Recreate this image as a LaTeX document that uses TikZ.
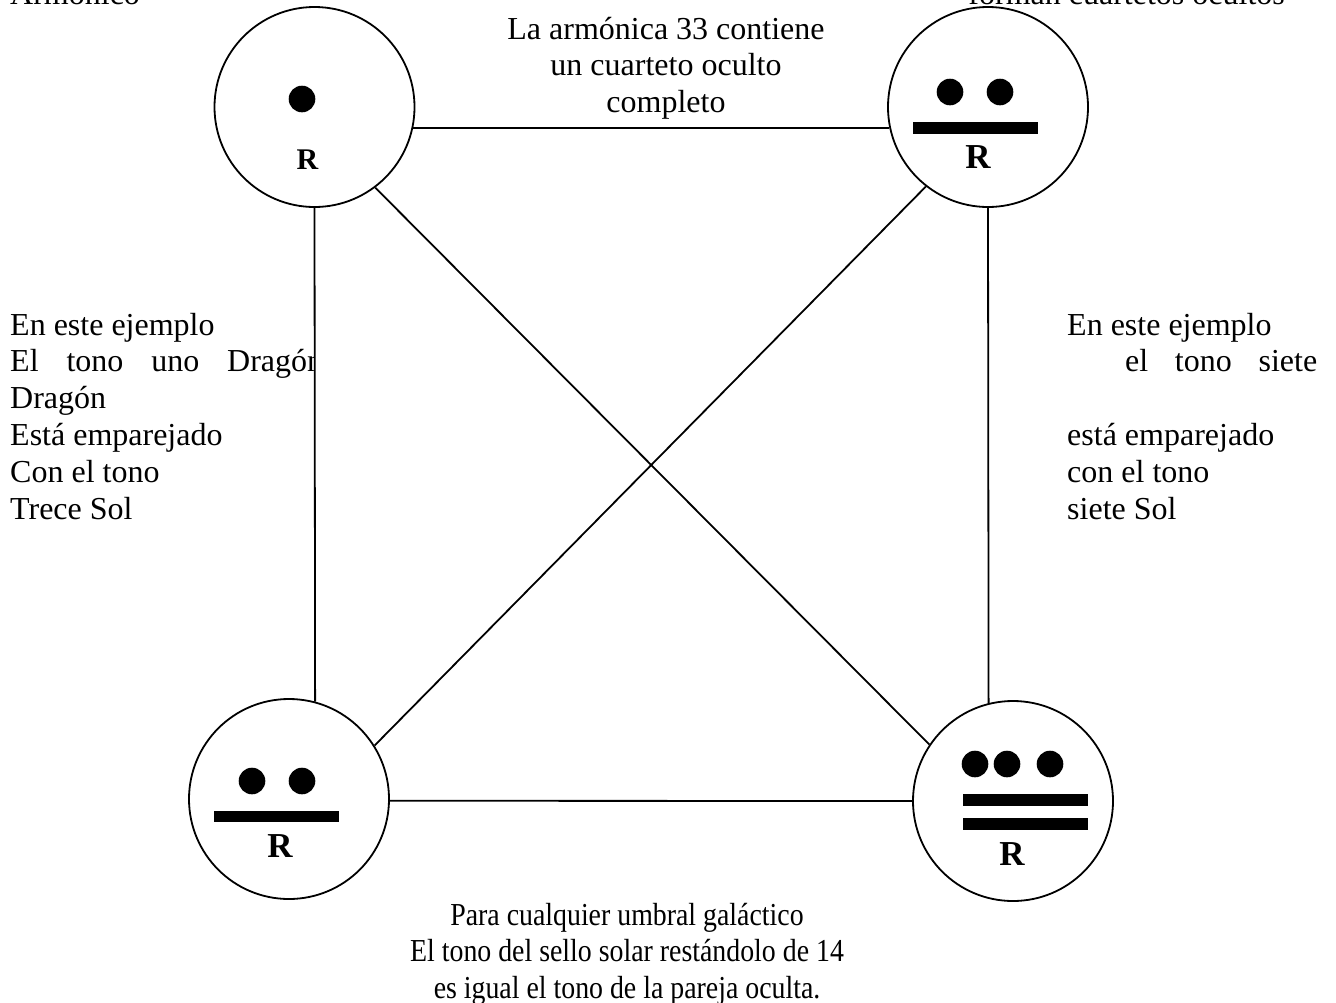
\documentclass[tikz,border=0pt]{standalone}
\usepackage{fontspec}
\setmainfont{Liberation Serif}
\usepackage{graphicx}
\newcommand\blockC[2]{\vtop{\baselineskip=#1\lineskiplimit=-100pt\halign{\hfil##\hfil\cr#2\crcr}}}
\newcommand\blockL[2]{\vtop{\baselineskip=#1\lineskiplimit=-100pt\halign{##\hfil\cr#2\crcr}}}
\tikzset{
  tone/.style={circle, draw, line width=1.8pt, minimum size=200pt, inner sep=0pt},
  conn/.style={line width=1.8pt},
  txt/.style={inner sep=0pt, font=\fontsize{32}{36.8}\selectfont},
  rlab/.style={inner sep=0pt, anchor=base, font=\fontsize{35}{35}\bfseries\selectfont},
}
\begin{document}
\begin{tikzpicture}[x=1pt,y=-1pt]
\useasboundingbox (0,0) rectangle (1336,1002);
\fill[white] (0,0) rectangle (1336,1002);
\clip (0,0) rectangle (1336,1002);

% circles
\node[tone] (tl) at (314.5,107) {};
\node[tone] (tr) at (988,107) {};
\node[tone] (bl) at (289,799) {};
\node[tone] (br) at (1013,801) {};

% connectors
\draw[conn] (tl.-12) -- (tr.192);
\draw[conn] (bl.-1) -- (br.180);
\draw[conn] (tl.south) -- (bl.75);
\draw[conn] (tr.south) -- (br.104);
\draw[conn] (tl.-53) -- (br.146);
\draw[conn] (tr.232) -- (bl.32);

% Maya numerals
\fill (302,99) circle[radius=13.3pt];
\fill (950,92) circle[radius=13.3pt];
\fill (1000,92) circle[radius=13.3pt];
\fill (913,122) rectangle (1038,134);
\fill (252,781) circle[radius=13.3pt];
\fill (302,781) circle[radius=13.3pt];
\fill (214,811) rectangle (339,822);
\fill (975,764) circle[radius=13.3pt];
\fill (1007,764) circle[radius=13.3pt];
\fill (1050,764) circle[radius=13.3pt];
\fill (963,794) rectangle (1088,806);
\fill (963,818) rectangle (1088,830);

% R labels
\node[rlab, font=\fontsize{30}{30}\bfseries\selectfont] (tlR) at (307.5,169) {R};
\node[rlab] (trR) at (978,168) {R};
\node[rlab] (blR) at (280,857) {R};
\node[rlab] (brR) at (1012,865) {R};

% texts
\node[txt, anchor=base west] (armonico) at (10,4.5) {Armónico};
\node[txt, anchor=base east] (forman) at (1285,4.5) {forman cuartetos ocultos};
\node[txt, anchor=base] (toptext) at (666,39)
  {\blockC{36.5pt}{La armónica 33 contiene\cr un cuarteto oculto\cr completo}};

\begin{scope}
\clip (0,290) rectangle (313.5,560);
\node[txt, anchor=base west] (lefttext) at (10,335)
  {\blockL{36.8pt}{En este ejemplo\cr
   \hbox to 313pt{El\hfil tono\hfil uno\hfil Dragón}\cr
   Dragón\cr Está emparejado\cr Con el tono\cr Trece Sol}};
\end{scope}

\node[txt, anchor=base west] (righttext) at (1067,335)
  {\blockL{36.8pt}{En este ejemplo\cr
   \hspace*{58pt}\hbox to 192pt{el\hfil tono\hfil siete}\cr
   \cr está emparejado\cr con el tono\cr siete Sol}};

\node[txt, anchor=base] (bottomtext) at (627,925)
  {\scalebox{0.87}[1]{\blockC{36.5pt}{Para cualquier umbral galáctico\cr
   El tono del sello solar restándolo de 14\cr
   es igual el tono de la pareja oculta.}}};
\end{tikzpicture}
\end{document}
